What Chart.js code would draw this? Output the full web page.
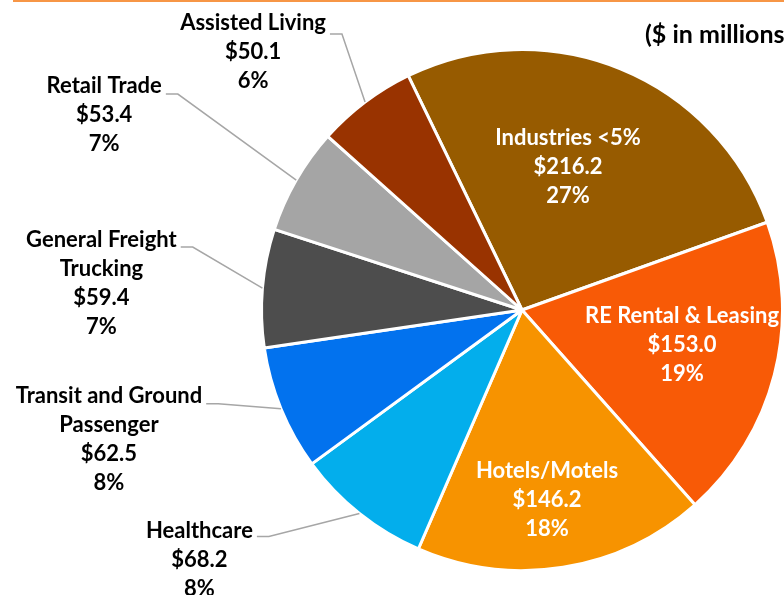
<!DOCTYPE html>
<html>
<head>
<meta charset="utf-8">
<script src="https://cdn.jsdelivr.net/npm/chart.js@4"></script>
<style>
  html, body { margin: 0; padding: 0; background: #fff; }
  #wrap { width: 784px; height: 595px; position: relative; }
</style>
</head>
<body>
<div id="wrap"><canvas id="pie" width="784" height="595"></canvas></div>
<script>
// Loan balances by industry ($ in millions)
const categories = ['Industries <5%', 'RE Rental & Leasing', 'Hotels/Motels', 'Healthcare',
    ['Transit and Ground', 'Passenger'], ['General Freight', 'Trucking'], 'Retail Trade', 'Assisted Living'];
const amounts = [216.2, 153.0, 146.2, 68.2, 62.5, 59.4, 53.4, 50.1];
const sliceColors = ['#975B00', '#F85A06', '#F79300', '#03AEEC', '#0272EE', '#4D4D4D', '#A5A5A5', '#993300'];
const titleText = '($ in millions)';

// label placement: inside labels are offset from pie centre, outside ones from the slice edge
const labelInside = [true, true, true, false, false, false, false, false];
const labelOffsets = [[46, -172], [160, 6], [25, 161], [-160, 17], [-172, -13], [-161, -48], [-192, -94], [-112, -79]];
const leaderDrop = [0, 0, 0, 6, 8, 7, 8, 11];

const FONT = 'bold 22px Lato, "Open Sans", sans-serif';
const TITLE_FONT = 'bold 25px Lato, "Open Sans", sans-serif';
const LINE_H = 29;

const total = amounts.reduce((a, b) => a + b, 0);

const labelPlugin = {
    id: 'sliceLabels',
    afterDatasetsDraw(chart) {
        const ctx = chart.ctx;
        const arcs = chart.getDatasetMeta(0).data;
        ctx.save();
        ctx.font = FONT;
        ctx.textAlign = 'center';
        ctx.textBaseline = 'middle';
        arcs.forEach((arc, i) => {
            const p = arc.getProps(['x', 'y', 'startAngle', 'endAngle', 'outerRadius'], true);
            const mid = (p.startAngle + p.endAngle) / 2;
            const name = [].concat(categories[i]);
            const lines = name.concat(['$' + amounts[i].toFixed(1), Math.round(amounts[i] / total * 100) + '%']);
            let ax, ay;
            if (labelInside[i]) {
                ax = p.x; ay = p.y;
            } else {
                ax = p.x + Math.cos(mid) * p.outerRadius;
                ay = p.y + Math.sin(mid) * p.outerRadius;
            }
            const tx = ax + labelOffsets[i][0];
            const ty = ay + labelOffsets[i][1];
            if (!labelInside[i]) {
                const w = ctx.measureText(lines[0]).width;
                const ly = ty + leaderDrop[i];
                const sx = tx + w / 2 + 4;
                ctx.strokeStyle = '#A6A6A6';
                ctx.lineWidth = 1.5;
                ctx.beginPath();
                ctx.moveTo(sx, ly);
                ctx.lineTo(sx + 12, ly);
                ctx.lineTo(ax, ay);
                ctx.stroke();
            }
            ctx.fillStyle = labelInside[i] ? '#FFFFFF' : '#000000';
            lines.forEach((t, k) => ctx.fillText(t, tx, ty + k * LINE_H));
        });
        ctx.restore();
    },
    beforeDraw(chart) {
        const ctx = chart.ctx;
        ctx.save();
        ctx.strokeStyle = '#F79646';
        ctx.lineWidth = 2;
        ctx.beginPath();
        ctx.moveTo(13, 1);
        ctx.lineTo(chart.width, 1);
        ctx.stroke();
        ctx.font = TITLE_FONT;
        ctx.fillStyle = '#000';
        ctx.textBaseline = 'middle';
        ctx.fillText(titleText, 645, 35);
        ctx.restore();
    }
};

new Chart(document.getElementById('pie'), {
    type: 'pie',
    data: {
        labels: categories,
        datasets: [{
            data: amounts,
            backgroundColor: sliceColors,
            borderColor: '#FFFFFF',
            borderWidth: 3
        }]
    },
    options: {
        responsive: false,
        animation: false,
        rotation: -25.9,
        layout: { padding: { left: 260, right: 0, top: 48, bottom: 23 } },
        plugins: {
            legend: { display: false },
            tooltip: { enabled: false }
        }
    },
    plugins: [labelPlugin]
});
</script>
</body>
</html>
